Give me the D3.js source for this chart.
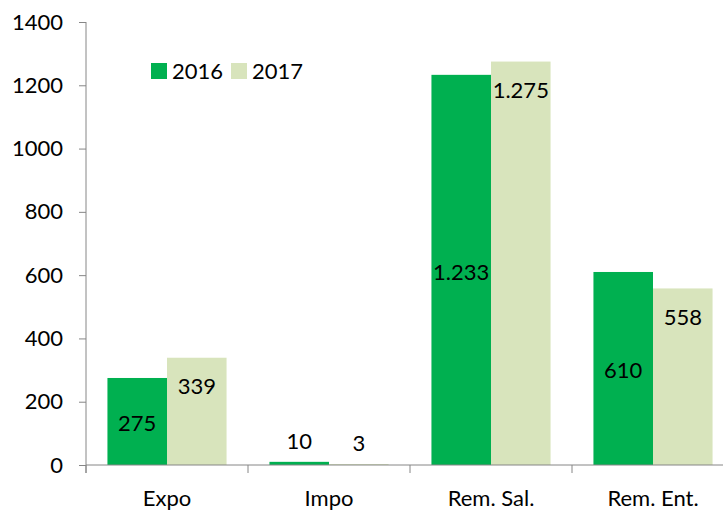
<!DOCTYPE html>
<html>
<head>
<meta charset="utf-8">
<script src="https://cdn.jsdelivr.net/npm/d3@7"></script>
<style>
  body { margin: 0; background: #fff; }
  text { font-family: Lato, "Open Sans", sans-serif; fill: #000; }
</style>
</head>
<body>
<div id="chart"></div>
<script>
// chart data
const categories = ["Expo", "Impo", "Rem. Sal.", "Rem. Ent."];
const years = ["2016", "2017"];
const values2016 = [275, 10, 1233, 610];
const values2017 = [339, 3, 1275, 558];
const yTicks = [0, 200, 400, 600, 800, 1000, 1200, 1400];
const colors = ["#00b050", "#d8e4bc"];

const width = 723, height = 510;
const margin = { top: 22, left: 86, bottom: 45 };
const fontSize = 22;

const series = [values2016, values2017];

const svg = d3.select("#chart").append("svg")
    .attr("width", width)
    .attr("height", height);

const y = d3.scaleLinear()
    .domain([0, 1400])
    .range([height - margin.bottom, margin.top]);

// last band runs past the right edge, as in the reference
const x0 = d3.scaleBand()
    .domain(categories)
    .range([margin.left, margin.left + 162 * categories.length]);

const x1 = d3.scaleBand()
    .domain(years)
    .range([0, x0.bandwidth()])
    .paddingOuter(0.36);

const locale = d3.formatLocale({ decimal: ",", thousands: ".", grouping: [3], currency: ["", ""] });
const fmt = locale.format(",d");

// bars
const groups = svg.selectAll("g.cat")
    .data(categories)
    .enter()
    .append("g")
    .attr("class", "cat")
    .attr("transform", d => "translate(" + x0(d) + ",0)");

groups.selectAll("rect")
    .data((c, i) => years.map((yr, j) => ({ year: yr, j: j, value: series[j][i] })))
    .enter()
    .append("rect")
    .attr("x", d => x1(d.year))
    .attr("y", d => y(d.value))
    .attr("width", x1.bandwidth())
    .attr("height", d => y(0) - y(d.value))
    .style("fill", d => colors[d.j]);

// data labels: 2016 centred, 2017 inside end, tiny bars above
groups.selectAll("text.lbl")
    .data((c, i) => years.map((yr, j) => ({ year: yr, j: j, value: series[j][i] })))
    .enter()
    .append("text")
    .attr("class", "lbl")
    .attr("x", d => x1(d.year) + x1.bandwidth() / 2)
    .attr("y", d => {
        const top = y(d.value), h = y(0) - top;
        if (h < 30) return top - 21;
        return d.j === 0 ? top + h / 2 + 2 : top + 29;
    })
    .attr("dy", "0.35em")
    .attr("text-anchor", "middle")
    .style("font-size", fontSize + "px")
    .text(d => fmt(d.value));

// y axis
const yAxis = svg.append("g")
    .attr("transform", "translate(" + margin.left + ",0)")
    .call(d3.axisLeft(y).tickValues(yTicks).tickFormat(d3.format("d")).tickSize(7).tickSizeOuter(0).tickPadding(16));
yAxis.select(".domain").remove();
yAxis.selectAll("line").attr("stroke", "#868686");
yAxis.selectAll("text").style("font-size", fontSize + "px");
yAxis.append("line")
    .attr("x1", 0).attr("x2", 0)
    .attr("y1", margin.top).attr("y2", y(0) + 8)
    .attr("stroke", "#868686");

// x axis
const xAxis = svg.append("g")
    .attr("transform", "translate(0," + y(0) + ")")
    .call(d3.axisBottom(x0).tickSize(0).tickPadding(25));
xAxis.select(".domain").remove();
xAxis.selectAll("text").style("font-size", fontSize + "px");
xAxis.append("line")
    .attr("x1", margin.left).attr("x2", width)
    .attr("stroke", "#868686");
xAxis.selectAll("line.sep")
    .data(categories)
    .enter()
    .append("line")
    .attr("class", "sep")
    .attr("x1", d => x0(d)).attr("x2", d => x0(d))
    .attr("y1", 0).attr("y2", 8)
    .attr("stroke", "#868686");

// legend
const legend = svg.append("g")
    .attr("transform", "translate(151,63)");
const item = legend.selectAll("g")
    .data(years)
    .enter()
    .append("g")
    .attr("transform", (d, i) => "translate(" + (i * 80) + ",0)");
item.append("rect")
    .attr("width", 16).attr("height", 16)
    .style("fill", (d, i) => colors[i]);
item.append("text")
    .attr("x", 21)
    .attr("y", 16)
    .style("font-size", fontSize + "px")
    .text(d => d);
</script>
</body>
</html>
